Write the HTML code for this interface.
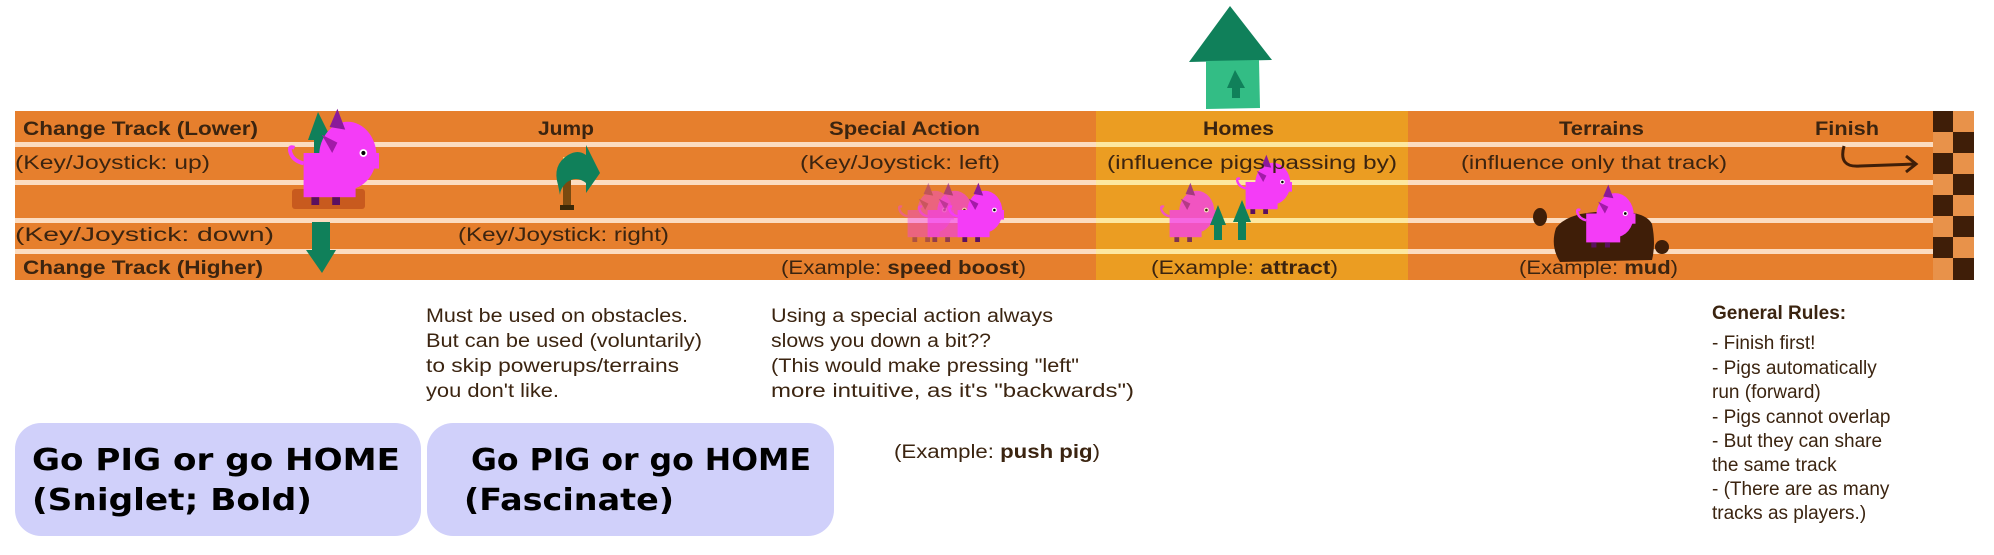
<!DOCTYPE html>
<html><head><meta charset="utf-8"><style>
html,body{margin:0;padding:0;background:#fff;}
svg{display:block;}
text{font-family:"Liberation Sans",sans-serif;fill:#3b2410;}
.b{font-weight:bold;}
.go{font-family:"DejaVu Sans","Liberation Sans",sans-serif;font-weight:900;fill:#000;}
</style></head><body>
<svg width="1994" height="555" viewBox="0 0 1994 555" xmlns="http://www.w3.org/2000/svg">
<defs>
<g id="pig">
  <rect x="-28" y="-10" width="40" height="34" fill="#f43cf7"/>
  <ellipse cx="6" cy="-8" rx="22" ry="26" fill="#f43cf7"/>
  <rect x="22" y="-10" width="8" height="12" fill="#f43cf7"/>
  <polygon points="-8,-30 -2,-44 4,-28" fill="#8a1a9a"/>
  <polygon points="-14,-24 -2,-18 -6,-10" fill="#a21aa8"/>
  <circle cx="18" cy="-10" r="3" fill="#fff"/><circle cx="18" cy="-10" r="1.6" fill="#000"/>
  <path d="M-28,-2 q-8,-2 -10,-8 q-2,-6 3,-4" stroke="#f43cf7" stroke-width="3" fill="none"/>
  <rect x="-22" y="24" width="6" height="6" fill="#5a1060"/><rect x="-6" y="24" width="6" height="6" fill="#5a1060"/>
</g>
</defs>
<polygon points="1230,6 1189,62 1272,60" fill="#10805a"/>
<polygon points="1206,61 1259,60 1260,108 1206,109" fill="#33bd85"/>
<polygon points="1235,70 1227,88 1232,88 1232,98 1240,98 1240,88 1245,88" fill="#10805a"/>
<rect x="15" y="111" width="1918" height="169" fill="#e67f2d"/>
<rect x="1096" y="111" width="312" height="169" fill="#eb9d22"/>
<g fill="#fcdcc0">
<rect x="15" y="142" width="1918" height="5"/>
<rect x="15" y="180" width="1918" height="5"/>
<rect x="15" y="218" width="1918" height="5"/>
<rect x="15" y="249" width="1918" height="5"/>
</g>
<g fill="#fde8a0">
<rect x="1096" y="142" width="312" height="5"/>
<rect x="1096" y="180" width="312" height="5"/>
<rect x="1096" y="218" width="312" height="5"/>
<rect x="1096" y="249" width="312" height="5"/>
</g>
<g>
<rect x="1933" y="111" width="41" height="169" fill="#e8924a"/>
<rect x="1933" y="111" width="20" height="21" fill="#3f1e08"/>
<rect x="1953" y="132" width="21" height="21" fill="#3f1e08"/>
<rect x="1933" y="153" width="20" height="21" fill="#3f1e08"/>
<rect x="1953" y="174" width="21" height="21" fill="#3f1e08"/>
<rect x="1933" y="195" width="20" height="21" fill="#3f1e08"/>
<rect x="1953" y="216" width="21" height="21" fill="#3f1e08"/>
<rect x="1933" y="237" width="20" height="21" fill="#3f1e08"/>
<rect x="1953" y="258" width="21" height="22" fill="#3f1e08"/>
</g>
<polygon points="318,112 308,140 314,140 314,182 326,182 326,140 332,140" fill="#10805a"/>
<rect x="292" y="189" width="73" height="20" rx="3" fill="#c85a1e"/>
<use href="#pig" transform="translate(340,166) scale(1.3)"/>
<polygon points="312,222 312,250 306,250 322,273 336,250 330,250 330,222" fill="#10805a"/>
<rect x="563" y="175" width="8" height="30" fill="#7a4a10"/>
<rect x="560" y="205" width="14" height="5" fill="#3a2808"/>
<rect x="563" y="157" width="7" height="20" fill="#ffd070"/>
<path d="M558,185 q-6,-20 10,-30 q10,-6 18,0 l0,-10 l14,28 l-14,20 l0,-10 q-10,-8 -20,0 q-6,6 -6,12 z" fill="#10805a"/>
<use href="#pig" transform="translate(930,218) scale(0.8)" opacity="0.4"/>
<use href="#pig" transform="translate(950,218) scale(0.8)" opacity="0.6"/>
<use href="#pig" transform="translate(980,218) scale(0.8)"/>
<use href="#pig" transform="translate(1192,218) scale(0.8)" opacity="0.75"/>
<use href="#pig" transform="translate(1268,190) scale(0.8)"/>
<polygon points="1218,205 1210,225 1214,225 1214,240 1222,240 1222,225 1226,225" fill="#10805a"/>
<polygon points="1242,200 1233,222 1238,222 1238,240 1246,240 1246,222 1251,222" fill="#10805a"/>
<path d="M1556,228 q10,-14 40,-16 q48,-4 56,12 q4,20 0,36 l-92,2 q-10,-16 -4,-34 z" fill="#3f1e08"/>
<ellipse cx="1540" cy="217" rx="7" ry="9" fill="#3f1e08"/>
<ellipse cx="1662" cy="247" rx="7" ry="7" fill="#3f1e08"/>
<use href="#pig" transform="translate(1610,222) scale(0.85)"/>
<path d="M1844,146 q-6,22 16,20 l55,-2" stroke="#3f1e08" stroke-width="3" fill="none"/>
<path d="M1906,156 l10,8 l-10,8" stroke="#3f1e08" stroke-width="3" fill="none"/>
<g font-size="19">
<text class="b" x="23" y="135" textLength="235" lengthAdjust="spacingAndGlyphs">Change Track (Lower)</text>
<text x="15" y="169" textLength="195" lengthAdjust="spacingAndGlyphs">(Key/Joystick: up)</text>
<text x="15" y="241" textLength="259" lengthAdjust="spacingAndGlyphs">(Key/Joystick: down)</text>
<text class="b" x="23" y="274" textLength="240" lengthAdjust="spacingAndGlyphs">Change Track (Higher)</text>
<text class="b" x="538" y="135" textLength="56" lengthAdjust="spacingAndGlyphs">Jump</text>
<text x="458" y="241" textLength="211" lengthAdjust="spacingAndGlyphs">(Key/Joystick: right)</text>
<text class="b" x="829" y="135" textLength="151" lengthAdjust="spacingAndGlyphs">Special Action</text>
<text x="800" y="169" textLength="200" lengthAdjust="spacingAndGlyphs">(Key/Joystick: left)</text>
<text x="781" y="274" textLength="245" lengthAdjust="spacingAndGlyphs">(Example: <tspan class="b">speed boost</tspan>)</text>
<text class="b" x="1203" y="135" textLength="71" lengthAdjust="spacingAndGlyphs">Homes</text>
<text x="1107" y="169" textLength="290" lengthAdjust="spacingAndGlyphs">(influence pigs passing by)</text>
<text x="1151" y="274" textLength="187" lengthAdjust="spacingAndGlyphs">(Example: <tspan class="b">attract</tspan>)</text>
<text class="b" x="1559" y="135" textLength="85" lengthAdjust="spacingAndGlyphs">Terrains</text>
<text x="1461" y="169" textLength="266" lengthAdjust="spacingAndGlyphs">(influence only that track)</text>
<text x="1519" y="274" textLength="159" lengthAdjust="spacingAndGlyphs">(Example: <tspan class="b">mud</tspan>)</text>
<text class="b" x="1815" y="135" textLength="64" lengthAdjust="spacingAndGlyphs">Finish</text>
</g>
<g font-size="19">
<text x="426" y="322" textLength="262" lengthAdjust="spacingAndGlyphs">Must be used on obstacles.</text>
<text x="426" y="347" textLength="276" lengthAdjust="spacingAndGlyphs">But can be used (voluntarily)</text>
<text x="426" y="372" textLength="253" lengthAdjust="spacingAndGlyphs">to skip powerups/terrains</text>
<text x="426" y="397" textLength="133" lengthAdjust="spacingAndGlyphs">you don't like.</text>
<text x="771" y="322" textLength="282" lengthAdjust="spacingAndGlyphs">Using a special action always</text>
<text x="771" y="347" textLength="220" lengthAdjust="spacingAndGlyphs">slows you down a bit??</text>
<text x="771" y="372" textLength="308" lengthAdjust="spacingAndGlyphs">(This would make pressing "left"</text>
<text x="771" y="397" textLength="363" lengthAdjust="spacingAndGlyphs">more intuitive, as it's "backwards")</text>
<text x="894" y="458" textLength="206" lengthAdjust="spacingAndGlyphs">(Example: <tspan class="b">push pig</tspan>)</text>
<text class="b" x="1712" y="319">General Rules:</text>
<text x="1712" y="349">- Finish first!</text>
<text x="1712" y="374">- Pigs automatically</text>
<text x="1712" y="398">run (forward)</text>
<text x="1712" y="423">- Pigs cannot overlap</text>
<text x="1712" y="447">- But they can share</text>
<text x="1712" y="471">the same track</text>
<text x="1712" y="495">- (There are as many</text>
<text x="1712" y="519">tracks as players.)</text>
</g>
<rect x="15" y="423" width="406" height="113" rx="26" fill="#d0d0fa"/>
<rect x="427" y="423" width="407" height="113" rx="26" fill="#d0d0fa"/>
<text class="go" x="32" y="470" font-size="30" textLength="368" lengthAdjust="spacingAndGlyphs">Go PIG or go HOME</text>
<text class="go" x="32" y="510" font-size="30" textLength="280" lengthAdjust="spacingAndGlyphs">(Sniglet; Bold)</text>
<text class="go" x="471" y="470" font-size="30" textLength="340" lengthAdjust="spacingAndGlyphs">Go PIG or go HOME</text>
<text class="go" x="464" y="510" font-size="30" textLength="210" lengthAdjust="spacingAndGlyphs">(Fascinate)</text>
</svg>
</body></html>
